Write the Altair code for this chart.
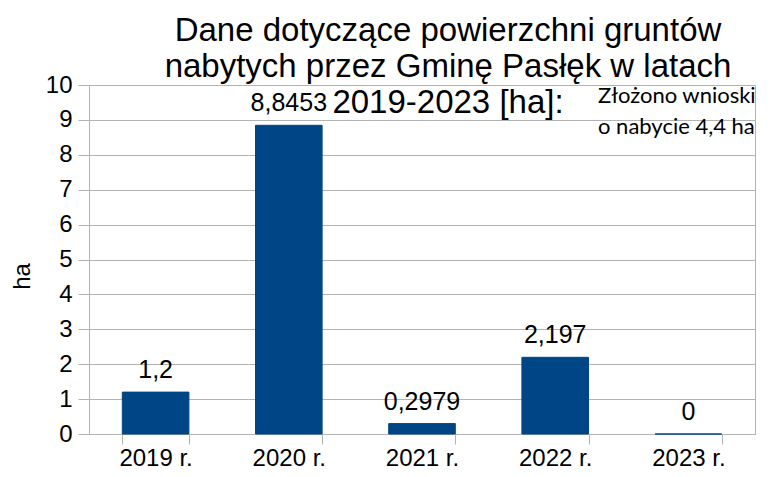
import altair as alt
import pandas as pd

years = ["2019 r.", "2020 r.", "2021 r.", "2022 r.", "2023 r."]
values = [1.2, 8.8453, 0.2979, 2.197, 0]
labels = ["1,2", "8,8453", "0,2979", "2,197", "0"]

title_lines = ["Dane dotyczące powierzchni gruntów",
               "nabytych przez Gminę Pasłęk w latach",
               "2019-2023 [ha]:"]
note_lines = ["Złożono wnioski", "o nabycie 4,4 ha"]

df = pd.DataFrame({"year": years, "value": values, "label": labels})

FONT = "Liberation Sans"
GRID = "#b3b3b3"
BLUE = "#004586"

x = alt.X("year:N", sort=years, title=None,
          scale=alt.Scale(paddingInner=0.5, paddingOuter=0.25),
          axis=alt.Axis(labelAngle=0, tickBand="extent", tickSize=10,
                        labelPadding=2, labelFontSize=24, labelFont=FONT,
                        labelColor="black", domainColor=GRID, tickColor=GRID,
                        grid=False))
y = alt.Y("value:Q", title="ha",
          scale=alt.Scale(domain=[0, 10], nice=False),
          axis=alt.Axis(values=list(range(0, 11)), tickSize=11, labelPadding=6,
                        labelFontSize=24, labelFont=FONT, labelColor="black",
                        domainColor=GRID, tickColor=GRID, gridColor=GRID,
                        titleFont=FONT, titleFontSize=24, titleFontWeight="normal",
                        titleColor="black", titleX=-67, titleY=191,
                        titleBaseline="middle", titleAlign="center"))

base = alt.Chart(df)
bars = base.mark_bar(color=BLUE, stroke=BLUE, strokeWidth=1).encode(x=x, y=y)
text = base.mark_text(baseline="alphabetic", dy=-14, fontSize=25, font=FONT,
                      color="black").encode(x=x, y=y, text="label:N")

title = alt.Chart(pd.DataFrame({"t": ["\n".join(title_lines)]})).mark_text(
    font=FONT, fontSize=33, lineBreak="\n", lineHeight=36, align="center",
    baseline="alphabetic", color="black"
).encode(x=alt.value(359), y=alt.value(-44), text="t:N")

note = alt.Chart(pd.DataFrame({"t": ["\n".join(note_lines)]})).mark_text(
    font="Lato", fontSize=22, lineBreak="\n", lineHeight=31, align="left",
    baseline="alphabetic", color="black"
).encode(x=alt.value(509), y=alt.value(18), text="t:N")

chart = alt.layer(bars, text, title, note).properties(
    width=666, height=349,
    autosize=alt.AutoSizeParams(type="none"),
    padding={"left": 81, "top": 77, "right": 13, "bottom": 35},
).configure_view(stroke=GRID)

chart.save("out.html", embed_options={"renderer": "svg", "actions": False})
